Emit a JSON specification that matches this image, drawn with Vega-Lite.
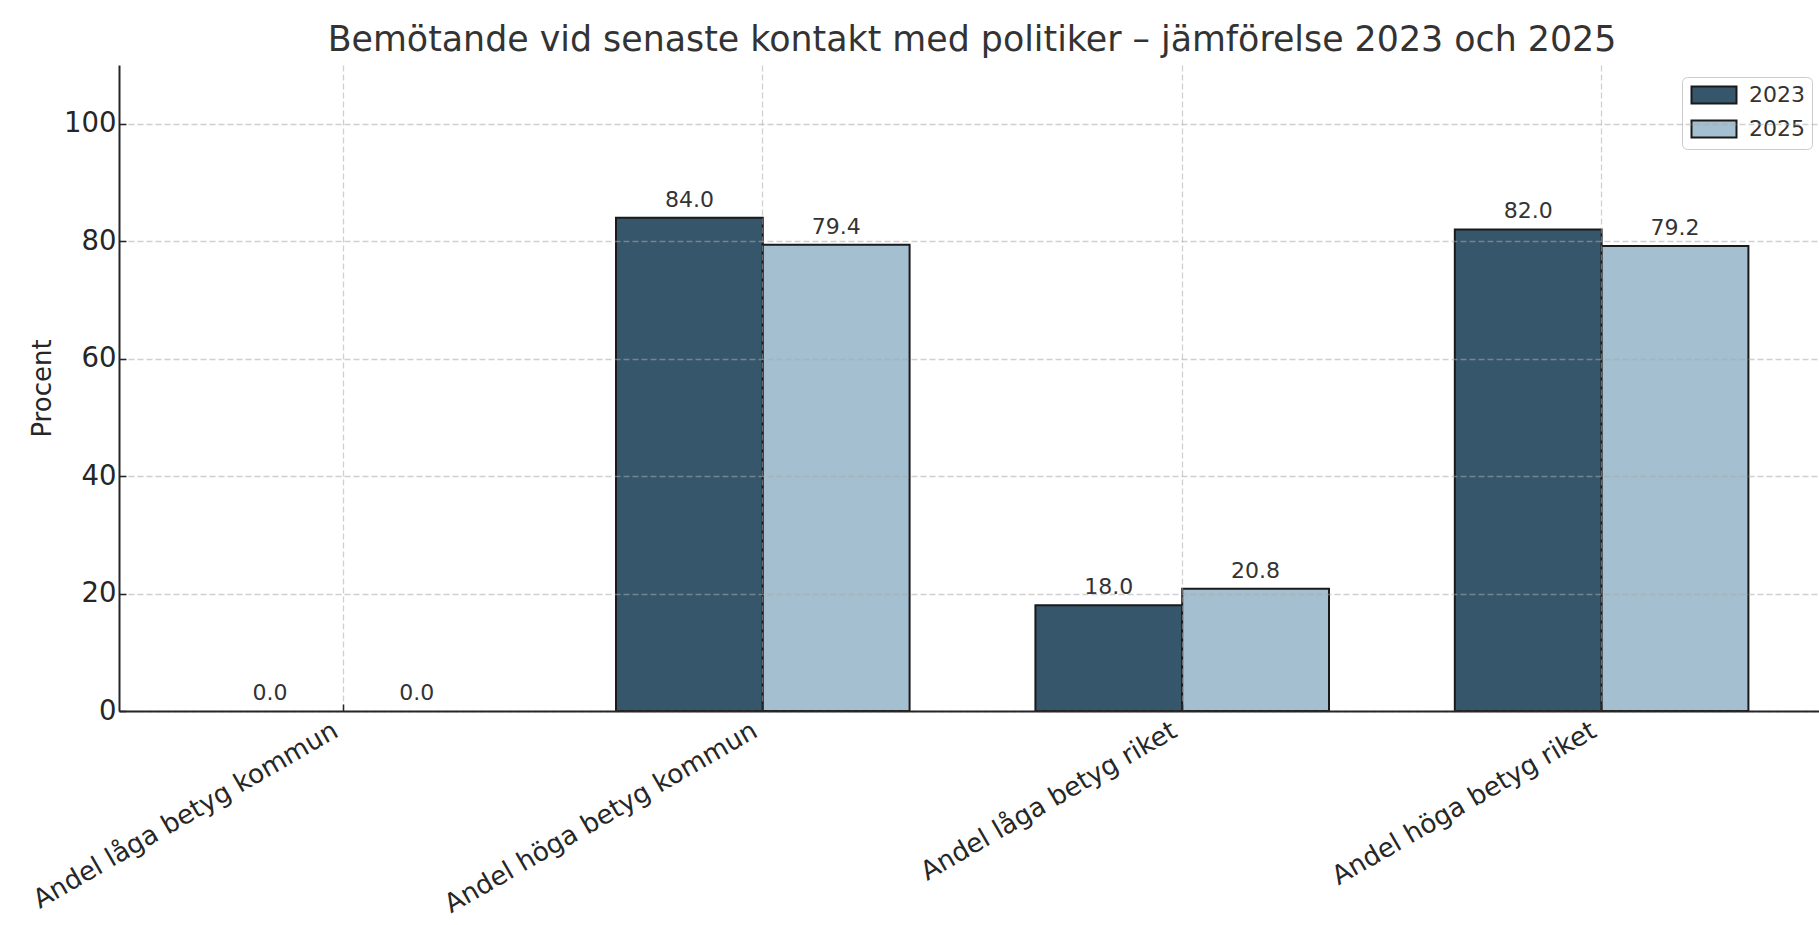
{
  "$schema": "https://vega.github.io/schema/vega-lite/v6.json",
  "autosize": {"type": "none"},
  "width": 1700,
  "height": 646,
  "padding": {"left": 119, "top": 65, "right": 0, "bottom": 214},
  "background": "white",
  "config": {"font": "DejaVu Sans", "view": {"stroke": null}},
  "title": {
    "text": "Bemötande vid senaste kontakt med politiker – jämförelse 2023 och 2025",
    "fontSize": 34.8,
    "fontWeight": "normal",
    "color": "#333333",
    "offset": 6,
    "dx": 3
  },
  "data": {
    "values": [
      {"kategori": "Andel låga betyg kommun", "år": "2023", "procent": 0.0},
      {"kategori": "Andel låga betyg kommun", "år": "2025", "procent": 0.0},
      {"kategori": "Andel höga betyg kommun", "år": "2023", "procent": 84.0},
      {"kategori": "Andel höga betyg kommun", "år": "2025", "procent": 79.4},
      {"kategori": "Andel låga betyg riket", "år": "2023", "procent": 18.0},
      {"kategori": "Andel låga betyg riket", "år": "2025", "procent": 20.8},
      {"kategori": "Andel höga betyg riket", "år": "2023", "procent": 82.0},
      {"kategori": "Andel höga betyg riket", "år": "2025", "procent": 79.2}
    ]
  },
  "encoding": {
    "x": {
      "field": "kategori",
      "type": "nominal",
      "sort": null,
      "scale": {"range": [0, 1707], "paddingInner": 0.3, "paddingOuter": 0.185},
      "axis": {
        "title": null,
        "labelAngle": -30,
        "labelAlign": "right",
        "labelBaseline": "top",
        "labelFontSize": 26.3,
        "labelColor": "#262626",
        "labelPadding": 13,
        "labelOffset": -14,
        "labelLimit": 0,
        "labelOverlap": false,
        "labelBound": false,
        "tickSize": -7,
        "tickColor": "#262626",
        "tickWidth": 1.5,
        "domainColor": "#262626",
        "domainWidth": 2,
        "grid": true,
        "gridColor": "#aaaaaa",
        "gridOpacity": 0.55,
        "gridDash": [6, 3],
        "gridWidth": 1.3,
        "zindex": 1
      }
    },
    "xOffset": {"field": "år", "type": "nominal", "scale": {"paddingInner": 0, "paddingOuter": 0}},
    "y": {
      "field": "procent",
      "type": "quantitative",
      "scale": {"domain": [0, 110], "nice": false},
      "axis": {
        "title": "Procent",
        "titleFontSize": 26,
        "titleFontWeight": "normal",
        "titleColor": "#262626",
        "titlePadding": 8,
        "values": [0, 20, 40, 60, 80, 100],
        "labelFontSize": 27.5,
        "labelColor": "#262626",
        "labelPadding": 10,
        "tickSize": -7,
        "tickColor": "#262626",
        "tickWidth": 1.5,
        "domainColor": "#262626",
        "domainWidth": 2,
        "grid": true,
        "gridColor": "#aaaaaa",
        "gridOpacity": 0.55,
        "gridDash": [6, 3],
        "gridWidth": 1.3,
        "zindex": 1
      }
    }
  },
  "layer": [
    {
      "mark": {"type": "bar", "stroke": "#1a1a1a"},
      "encoding": {
        "strokeWidth": {"condition": {"test": "datum.procent == 0", "value": 0}, "value": 2},
        "color": {
          "field": "år",
          "type": "nominal",
          "scale": {"domain": ["2023", "2025"], "range": ["#36566b", "#a4bfcf"]},
          "legend": {
            "title": null,
            "orient": "none",
            "legendX": 1563,
            "legendY": 12,
            "symbolType": "M-1,-1H4.294V1H-1Z",
            "symbolSize": 289,
            "symbolStrokeColor": "#1a1a1a",
            "symbolStrokeWidth": 2,
            "symbolOpacity": 1,
            "labelFontSize": 22,
            "labelColor": "#333333",
            "labelOffset": 38,
            "padding": 7,
            "rowPadding": 8,
            "strokeColor": "#cccccc",
            "cornerRadius": 5,
            "fillColor": "white"
          }
        }
      }
    },
    {
      "mark": {"type": "text", "dy": -11, "baseline": "alphabetic", "fontSize": 22, "color": "#333333"},
      "encoding": {"text": {"field": "procent", "type": "quantitative", "format": ".1f"}}
    }
  ]
}
